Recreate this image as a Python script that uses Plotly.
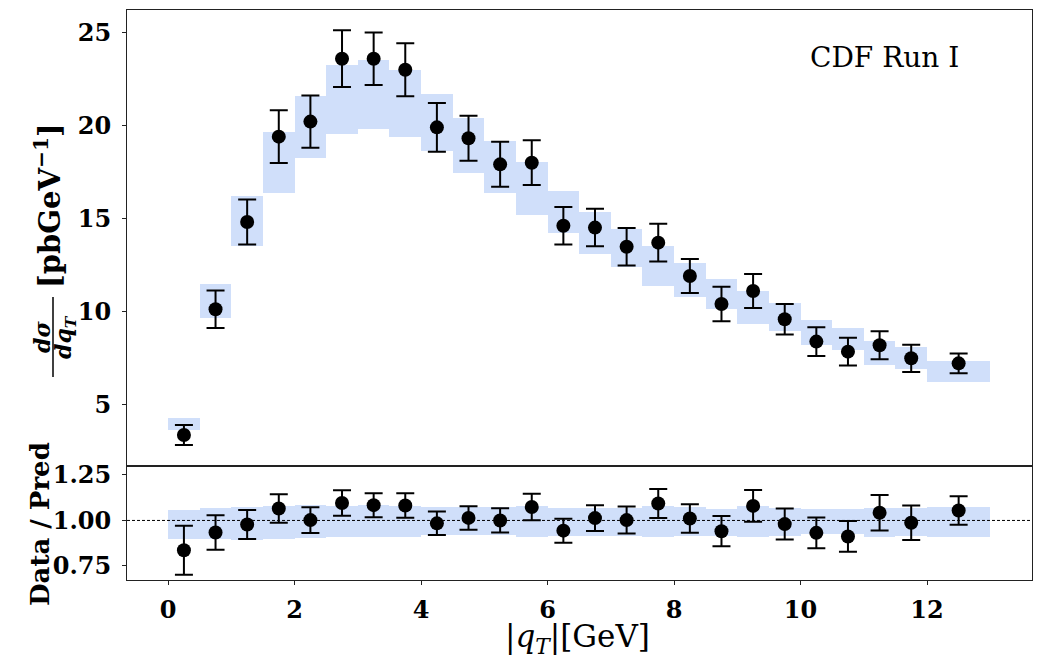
import plotly.graph_objects as go

# ---------------- data ----------------
qt_centers = [0.25, 0.75, 1.25, 1.75, 2.25, 2.75, 3.25, 3.75, 4.25, 4.75, 5.25, 5.75,
              6.25, 6.75, 7.25, 7.75, 8.25, 8.75, 9.25, 9.75, 10.25, 10.75, 11.25, 11.75, 12.5]
bin_lo = [0.0, 0.5, 1.0, 1.5, 2.0, 2.5, 3.0, 3.5, 4.0, 4.5, 5.0, 5.5,
          6.0, 6.5, 7.0, 7.5, 8.0, 8.5, 9.0, 9.5, 10.0, 10.5, 11.0, 11.5, 12.0]
bin_hi = [0.5, 1.0, 1.5, 2.0, 2.5, 3.0, 3.5, 4.0, 4.5, 5.0, 5.5, 6.0,
          6.5, 7.0, 7.5, 8.0, 8.5, 9.0, 9.5, 10.0, 10.5, 11.0, 11.5, 12.0, 13.0]

data_xsec = [3.37, 10.13, 14.82, 19.41, 20.22, 23.60, 23.60, 23.01, 19.91, 19.32, 17.92, 18.01,
             14.62, 14.52, 13.49, 13.71, 11.92, 10.41, 11.11, 9.59, 8.39, 7.85, 8.19, 7.49, 7.22]
data_err = [0.535, 1.01, 1.215, 1.415, 1.405, 1.525, 1.415, 1.425, 1.315, 1.21, 1.21, 1.20,
            1.005, 1.01, 1.005, 1.015, 0.915, 0.925, 0.915, 0.825, 0.77, 0.745, 0.75, 0.73, 0.535]
pred_lo = [3.62, 9.68, 13.55, 16.40, 18.28, 19.57, 19.84, 19.39, 18.66, 17.44, 16.40, 15.22,
           14.25, 13.12, 12.39, 11.40, 10.77, 10.16, 9.34, 8.95, 8.23, 7.92, 7.15, 6.92, 6.20]
pred_hi = [4.27, 11.51, 16.22, 19.66, 21.60, 23.26, 23.53, 22.98, 21.69, 20.41, 19.16, 18.03,
           16.49, 15.36, 14.46, 13.55, 12.62, 11.76, 11.10, 10.45, 9.54, 9.11, 8.44, 8.12, 7.35]

ratio = [0.836, 0.934, 0.978, 1.066, 1.002, 1.096, 1.084, 1.082, 0.984, 1.014, 1.000, 1.074,
         0.944, 1.013, 1.002, 1.093, 1.011, 0.941, 1.080, 0.980, 0.932, 0.912, 1.042, 0.987, 1.055]
ratio_err = [0.1345, 0.095, 0.08, 0.0785, 0.0705, 0.0705, 0.066, 0.067, 0.0645, 0.0645, 0.0665, 0.073,
             0.066, 0.0705, 0.074, 0.08, 0.0785, 0.083, 0.0875, 0.085, 0.0845, 0.0845, 0.0975, 0.095, 0.0785]
ratio_band_lo = [0.899, 0.896, 0.892, 0.899, 0.905, 0.910, 0.909, 0.910, 0.918, 0.918, 0.918, 0.909,
                 0.914, 0.914, 0.916, 0.907, 0.912, 0.914, 0.907, 0.916, 0.925, 0.923, 0.910, 0.912, 0.907]
ratio_band_hi = [1.060, 1.066, 1.074, 1.082, 1.084, 1.082, 1.085, 1.082, 1.073, 1.074, 1.074, 1.078,
                 1.067, 1.071, 1.071, 1.078, 1.073, 1.064, 1.078, 1.066, 1.064, 1.062, 1.071, 1.066, 1.074]

top_yticks = [5, 10, 15, 20, 25]
bot_yticks = [0.75, 1.00, 1.25]
bot_yticklabels = ["0.75", "1.00", "1.25"]
xticks = [0, 2, 4, 6, 8, 10, 12]

# ---------------- figure ----------------
W, H = 1037, 661
ML, MR, MT, MB = 127, 5, 10, 81
PW, PH = W - ML - MR, H - MT - MB


def px(x):
    return (x - ML) / PW


def py(y):
    return (H - MB - y) / PH


band_color = "rgba(100,149,237,0.3)"
serif = "DejaVu Serif"

bin_w = [h - l for l, h in zip(bin_lo, bin_hi)]
bin_c = [(l + h) / 2 for l, h in zip(bin_lo, bin_hi)]

fig = go.Figure()

# top panel band
fig.add_trace(go.Bar(
    x=bin_c, y=[h - l for l, h in zip(pred_lo, pred_hi)], base=pred_lo, width=bin_w,
    marker=dict(color=band_color, line=dict(width=0)),
    xaxis="x2", yaxis="y2", hoverinfo="skip"))
# top panel data
fig.add_trace(go.Scatter(
    x=qt_centers, y=data_xsec, mode="markers",
    marker=dict(color="black", size=14),
    error_y=dict(type="data", array=data_err, color="black", thickness=2, width=9),
    xaxis="x2", yaxis="y2"))

# bottom panel band
fig.add_trace(go.Bar(
    x=bin_c, y=[h - l for l, h in zip(ratio_band_lo, ratio_band_hi)], base=ratio_band_lo, width=bin_w,
    marker=dict(color=band_color, line=dict(width=0)),
    xaxis="x", yaxis="y", hoverinfo="skip"))
# bottom panel data
fig.add_trace(go.Scatter(
    x=qt_centers, y=ratio, mode="markers",
    marker=dict(color="black", size=14),
    error_y=dict(type="data", array=ratio_err, color="black", thickness=2, width=9),
    xaxis="x", yaxis="y"))

tickfont = dict(family=serif, size=24, color="black", weight="bold")
axis_common = dict(showline=True, linecolor="#222", linewidth=1, mirror=True,
                   showgrid=False, zeroline=False, ticklen=4, automargin=False,
                   tickcolor="#222", tickfont=tickfont)

fig.update_layout(
    width=W, height=H,
    margin=dict(l=ML, r=MR, t=MT, b=MB, autoexpand=False),
    paper_bgcolor="white", plot_bgcolor="white",
    showlegend=False, barmode="overlay", bargap=0,
    xaxis=dict(domain=[0, 1], anchor="y", range=[-0.65, 13.66], tickvals=xticks,
               ticks="outside", ticklabelstandoff=4, **axis_common),
    yaxis=dict(domain=[0, 0.2], anchor="x", range=[0.673, 1.299], tickvals=bot_yticks,
               ticktext=bot_yticklabels, ticks="outside", ticklabelstandoff=6, **axis_common),
    xaxis2=dict(domain=[0, 1], anchor="y2", range=[-0.65, 13.66], matches="x",
                showticklabels=False, ticks="", **axis_common),
    yaxis2=dict(domain=[0.2, 1], anchor="x2", range=[1.70, 26.22], tickvals=top_yticks,
                ticks="outside", ticklabelstandoff=6, **axis_common),
)

# dashed unity line
fig.add_shape(type="line", xref="paper", x0=0, x1=1, yref="y", y0=1, y1=1,
              line=dict(color="black", width=1, dash="3px,2px"), layer="above")

# y-axis label of top panel (fraction + unit)
fig.add_annotation(text="<b>[pbGeV<sup>−1</sup>]</b>", x=px(48), y=py(206), xref="paper", yref="paper",
                   textangle=-90, showarrow=False, xanchor="center", yanchor="middle",
                   font=dict(family=serif, size=29, color="black"))
fig.add_annotation(text="<b><i>dσ</i></b>", x=px(42), y=py(337), xref="paper", yref="paper",
                   textangle=-90, showarrow=False, xanchor="center", yanchor="middle",
                   font=dict(family=serif, size=22, color="black"))
fig.add_annotation(text="<b><i>dq<sub>T</sub></i></b>", x=px(65), y=py(337), xref="paper", yref="paper",
                   textangle=-90, showarrow=False, xanchor="center", yanchor="middle",
                   font=dict(family=serif, size=22, color="black"))
fig.add_shape(type="line", xref="paper", yref="paper", x0=px(53), x1=px(53), y0=py(297), y1=py(377),
              line=dict(color="black", width=1.5))

# y-axis label of bottom panel
fig.add_annotation(text="<b>Data / Pred</b>", x=px(40), y=py(524), xref="paper", yref="paper",
                   textangle=-90, showarrow=False, xanchor="center", yanchor="middle",
                   font=dict(family=serif, size=26, color="black"))

# x-axis label
fig.add_annotation(text="|<i>q</i><sub><i>T</i></sub>|[GeV]", x=px(577), y=py(638), xref="paper", yref="paper",
                   showarrow=False, xanchor="center", yanchor="middle",
                   font=dict(family=serif, size=31, color="black"))

# experiment label
fig.add_annotation(text="CDF Run I", x=px(884), y=py(57), xref="paper", yref="paper",
                   showarrow=False, xanchor="center", yanchor="middle",
                   font=dict(family=serif, size=28, color="black"))

# remove the browser's default page margin so the figure sits at the window origin
fig.write_html("out.html", config={"displayModeBar": False},
               post_script="document.body.style.margin='0px';")
